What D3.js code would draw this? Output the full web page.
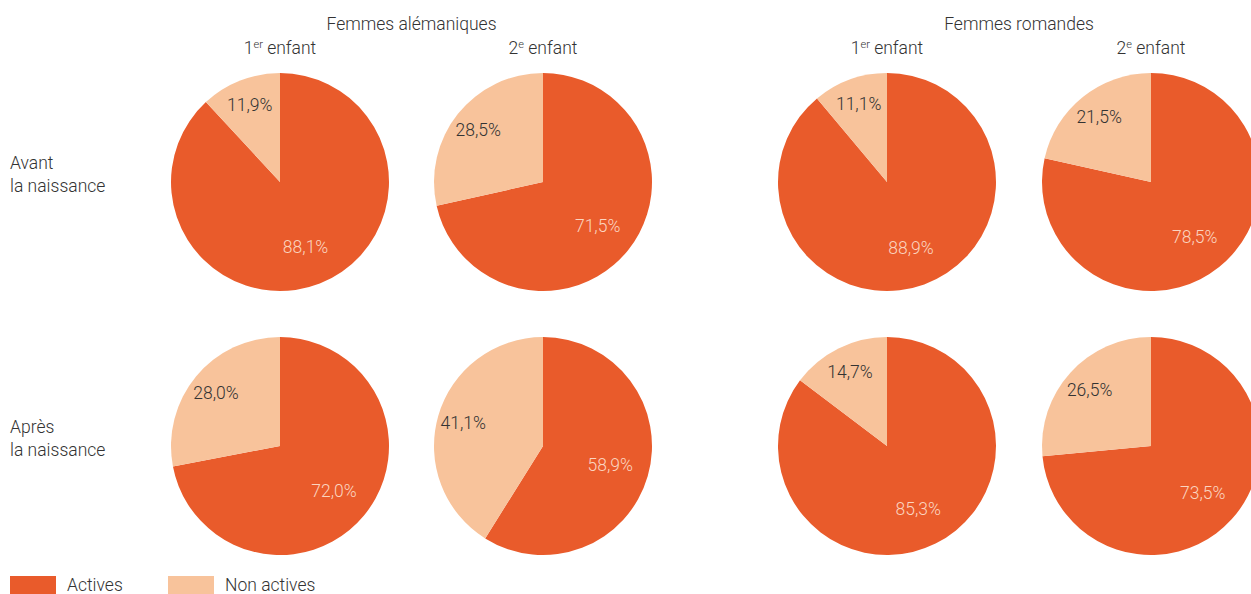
<!DOCTYPE html>
<html>
<head>
<meta charset="utf-8">
<script src="https://cdn.jsdelivr.net/npm/d3@7/dist/d3.min.js"></script>
<style>
  body { margin: 0; background: #fff; }
  text { font-family: Roboto, "Noto Sans", sans-serif; font-weight: 300; fill: #333; }
</style>
</head>
<body>
<div id="wrapper"></div>
<script>
// données
const groups = ["Femmes alémaniques", "Femmes romandes"]
const children = [["1", "er"], ["2", "e"]]
const moments = [["Avant", "la naissance"], ["Après", "la naissance"]]
const categories = ["Actives", "Non actives"]
// part des actives / non actives, par groupe puis enfant
const activesAvant = [88.1, 71.5, 88.9, 78.5]
const activesApres = [72.0, 58.9, 85.3, 73.5]
const nonActivesAvant = [11.9, 28.5, 11.1, 21.5]
const nonActivesApres = [28.0, 41.1, 14.7, 26.5]

const colors = ["#E95B2B", "#F8C39B"]
const labelColors = ["#FBD5C0", "#333"]

const dimensions = { width: 1251, height: 594 }
const radius = 109
const colCenters = [280, 543, 887, 1151]
const rowCenters = [182, 446]
const fontSize = "17.5px"

const svg = d3.select("#wrapper")
    .append("svg")
    .attr("width", dimensions.width)
    .attr("height", dimensions.height)

// titres des groupes
groups.forEach((g, i) => {
    svg.append("text")
        .attr("x", (colCenters[i * 2] + colCenters[i * 2 + 1]) / 2)
        .attr("y", 30)
        .attr("text-anchor", "middle")
        .style("font-size", fontSize)
        .text(g)
})

// 1er / 2e enfant
colCenters.forEach((cx, i) => {
    const c = children[i % 2]
    const t = svg.append("text")
        .attr("x", cx)
        .attr("y", 54)
        .attr("text-anchor", "middle")
        .style("font-size", fontSize)
    t.append("tspan").text(c[0])
    t.append("tspan").attr("dy", -6).style("font-size", "11px").text(c[1])
    t.append("tspan").attr("dy", 6).text(" enfant")
})

// libellés des lignes
moments.forEach((m, r) => {
    const t = svg.append("text")
        .attr("x", 10)
        .attr("y", rowCenters[r] - 13)
        .style("font-size", fontSize)
    m.forEach((line, k) => {
        t.append("tspan").attr("x", 10).attr("dy", k === 0 ? 0 : 23).text(line)
    })
})

const pie = d3.pie().sort(null).value(d => d.value)
const arc = d3.arc().innerRadius(0).outerRadius(radius)
// rayon des étiquettes : actives plus près du centre
const labelRadius = [70, 83]

const rows = [
    [activesAvant, nonActivesAvant],
    [activesApres, nonActivesApres],
]

rows.forEach((row, r) => {
    colCenters.forEach((cx, c) => {
        const data = [
            { cat: 0, value: row[0][c] },
            { cat: 1, value: row[1][c] },
        ]
        const g = svg.append("g")
            .attr("transform", `translate(${cx},${rowCenters[r]})`)
        const arcs = pie(data)
        g.selectAll("path")
            .data(arcs)
            .join("path")
            .attr("d", arc)
            .attr("fill", d => colors[d.data.cat])
        g.selectAll("text")
            .data(arcs)
            .join("text")
            .attr("transform", d => {
                const lr = labelRadius[d.data.cat]
                const la = d3.arc().innerRadius(lr).outerRadius(lr)
                return `translate(${la.centroid(d)})`
            })
            .attr("text-anchor", "middle")
            .attr("dy", "0.35em")
            .style("font-size", fontSize)
            .style("fill", d => labelColors[d.data.cat])
            .text(d => d3.format(".1f")(d.data.value).replace(".", ",") + "%")
    })
})

// légende
const legend = svg.append("g")
categories.forEach((cat, i) => {
    const x = 10 + i * 158
    legend.append("rect")
        .attr("x", x)
        .attr("y", 576)
        .attr("width", 46)
        .attr("height", 18)
        .attr("fill", colors[i])
    legend.append("text")
        .attr("x", x + 57)
        .attr("y", 591)
        .style("font-size", fontSize)
        .text(cat)
})
</script>
</body>
</html>
